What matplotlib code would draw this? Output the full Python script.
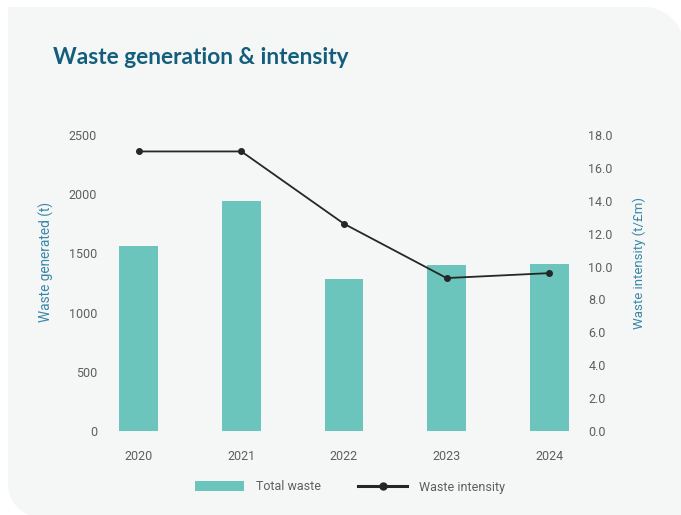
import numpy as np
import matplotlib
matplotlib.use("Agg")
import matplotlib.pyplot as plt
from matplotlib.path import Path
from matplotlib.patches import PathPatch, Patch
from matplotlib.lines import Line2D
from matplotlib.transforms import Affine2D

# Data
years = ["2020", "2021", "2022", "2023", "2024"]
total_waste = [1560, 1940, 1280, 1400, 1410]          # tonnes
waste_intensity = [17.0, 17.0, 12.6, 9.3, 9.6]        # t per £m
left_ticks = [0, 500, 1000, 1500, 2000, 2500]
right_ticks = [0, 2, 4, 6, 8, 10, 12, 14, 16, 18]

W, H = 681, 515
BAR = "#6cc5bc"
LINE = "#262626"
TITLE = "#135e7c"
AXLAB = "#3a87a8"
TICK = "#5e5e5e"
PANEL = "#f5f7f7"

plt.rcParams["font.family"] = ["Roboto", "DejaVu Sans"]

fig = plt.figure(figsize=(W / 100, H / 100), dpi=100)
fig.patch.set_facecolor("white")

# Panel background with rounded top-right and bottom-left corners (pixel coords, y down)
def arc(cx, cy, r, a0, a1, n=30):
    t = np.radians(np.linspace(a0, a1, n))
    return np.column_stack([cx + r * np.cos(t), cy + r * np.sin(t)])

L, T, R, B = 8, 7, 684, 518
r_tr, r_bl = 40, 34
pts = [[L, T], [R - r_tr, T]]
pts += arc(R - r_tr, T + r_tr, r_tr, -90, 0).tolist()
pts += [[R, B], [L + r_bl, B]]
pts += arc(L + r_bl, B - r_bl, r_bl, 90, 180).tolist()
pts += [[L, T]]
pts = np.array(pts, dtype=float)
pts[:, 1] = H - pts[:, 1]
to_fig = Affine2D().scale(1 / W, 1 / H) + fig.transFigure
fig.patches.append(PathPatch(Path(pts), facecolor=PANEL, edgecolor="none",
                             transform=to_fig, zorder=-5))

fig.text(53 / W, 1 - 57 / H, "Waste generation & intensity", color=TITLE,
         fontsize=16.3, fontweight="bold", family=["Lato", "DejaVu Sans"],
         ha="left", va="center")

# Axes placement in pixels
ax_l, ax_r, ax_t, ax_b = 108, 580, 135, 431
ax = fig.add_axes([ax_l / W, 1 - ax_b / H, (ax_r - ax_l) / W, (ax_b - ax_t) / H])
ax.set_facecolor("none")
x = np.arange(len(years))
ax.bar(x, total_waste, width=0.38, color=BAR, zorder=2)
ax.set_xlim(-0.3, 4.3)
ax.set_ylim(0, 2500)
ax.set_yticks(left_ticks)
ax.set_xticks(x, years)
ax.tick_params(length=0, labelsize=9, labelcolor=TICK)
ax.tick_params(axis="y", pad=8)
ax.tick_params(axis="x", pad=14)
for s in ax.spines.values():
    s.set_visible(False)
ax.set_ylabel("Waste generated (t)", color=AXLAB, fontsize=9.8)
ax.yaxis.set_label_coords((54 - ax_l) / (ax_r - ax_l), (ax_b - 262) / (ax_b - ax_t))

ax2 = ax.twinx()
ax2.plot(x, waste_intensity, color=LINE, lw=1.3, marker="o", ms=4, zorder=3)
ax2.set_ylim(0, 18)
ax2.set_yticks(right_ticks, [f"{v:.1f}" for v in right_ticks])
ax2.tick_params(length=0, labelsize=9, labelcolor=TICK, pad=6)
for s in ax2.spines.values():
    s.set_visible(False)
ax2.set_ylabel("Waste intensity (t/£m)", color=AXLAB, fontsize=9.5)
ax2.yaxis.set_label_coords((633 - ax_l) / (ax_r - ax_l), (ax_b - 263) / (ax_b - ax_t))

handles = [Patch(facecolor=BAR, edgecolor="none"),
           Line2D([], [], color=LINE, lw=2.2, marker="o", ms=5)]
fig.legend(handles, ["Total waste", "Waste intensity"], loc="center",
           bbox_to_anchor=(350 / W, 1 - 487 / H), ncol=2, frameon=False,
           fontsize=9, labelcolor=TICK, handlelength=3.9, handleheight=0.8,
           handletextpad=0.95, columnspacing=3.0)

fig.savefig("out.png", dpi=100, facecolor=fig.get_facecolor())
